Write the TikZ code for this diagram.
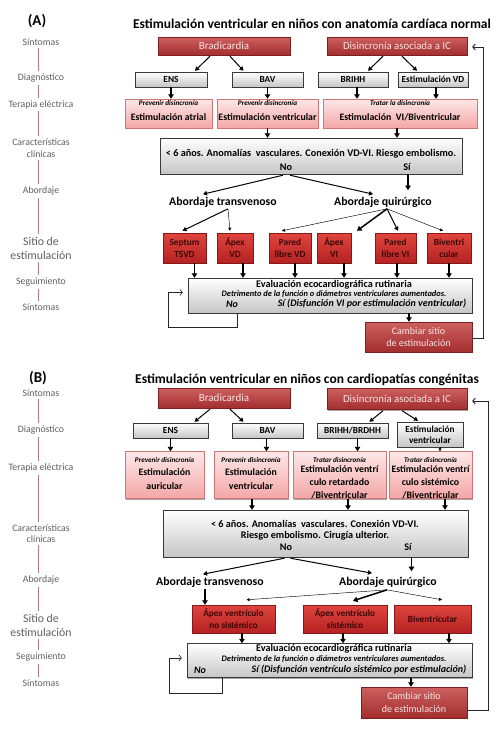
\documentclass[tikz,border=0pt]{standalone}
\usepackage{fontspec}
\setmainfont{Carlito}
\usetikzlibrary{arrows.meta,calc,shadows}
\definecolor{hdrT}{HTML}{CD6060}
\definecolor{hdrBt}{HTML}{A32E2E}
\definecolor{hdrD}{HTML}{7F1F1F}
\definecolor{hdrTx}{HTML}{F8E4E4}
\definecolor{siteT}{HTML}{E0453E}
\definecolor{siteBt}{HTML}{B42222}
\definecolor{siteD}{HTML}{861818}
\definecolor{siteTx}{HTML}{3A0606}
\definecolor{pinkT}{HTML}{FDE8E8}
\definecolor{pinkBt}{HTML}{F4A6A6}
\definecolor{pinkD}{HTML}{D07474}
\definecolor{sideC}{HTML}{B87A7A}
\begin{document}
\begin{tikzpicture}[x=1pt,y=-1pt,
  shad/.style={drop shadow={shadow xshift=1.2pt,shadow yshift=-1.2pt,opacity=0.35,fill=black}},
  lab/.style={text=gray!75!black,font=\fontsize{9.8}{11.5}\selectfont,align=center,inner xsep=0pt,inner ysep=2.5pt},
  labbig/.style={lab,font=\fontsize{11.8}{14}\selectfont},
  sideline/.style={draw=sideC,line width=0.5pt},
  ttl/.style={font=\bfseries\fontsize{13.5}{15}\selectfont,inner sep=0pt},
  pnl/.style={font=\bfseries\fontsize{15}{17}\selectfont,inner sep=0pt},
  hdr/.style={shad,draw=hdrD,top color=hdrT,bottom color=hdrBt,text=hdrTx,font=\fontsize{11}{13}\selectfont,align=center,inner sep=0pt},
  gbox/.style={shad,draw=gray!45!black,top color=white,bottom color=gray!45,font=\bfseries\fontsize{9.3}{11}\selectfont,align=center,inner sep=0pt},
  pbox/.style={shad,draw=pinkD,top color=pinkT,bottom color=pinkBt,inner sep=0pt},
  ptit/.style={font=\bfseries\itshape\fontsize{7.2}{8}\selectfont,inner sep=0pt},
  pmain/.style={font=\bfseries\fontsize{9.8}{13}\selectfont,align=center,inner sep=0pt},
  sbox/.style={shad,draw=siteD,top color=siteT,bottom color=siteBt,text=siteTx,font=\bfseries\fontsize{9.3}{12}\selectfont,align=center,inner sep=0pt},
  btxt/.style={font=\bfseries\fontsize{10.2}{11}\selectfont,inner sep=0pt},
  itxt/.style={font=\bfseries\itshape\fontsize{8.4}{9}\selectfont,inner sep=0pt},
  ibtxt/.style={font=\bfseries\itshape\fontsize{10}{11}\selectfont,inner sep=0pt},
  abo/.style={font=\bfseries\fontsize{11.8}{13}\selectfont,inner sep=1.5pt},
  arrT/.style={-{Triangle[length=4.5pt,width=5.5pt]},line width=1.5pt},
  arrM/.style={-{Triangle[length=4pt,width=4.5pt]},line width=1pt},
  arrS/.style={-{Triangle[length=3pt,width=3pt]},line width=0.45pt},
  loopl/.style={-{Straight Barb[length=2.5pt,width=6pt]},draw=gray!30!black,line width=0.6pt},
  fbl/.style={-{Straight Barb[length=2.5pt,width=6pt]},draw=gray!30!black,line width=0.9pt}
]
\useasboundingbox (0,0) rectangle (500,729);
\fill[white] (0,0) rectangle (500,729);

% ================= PANEL A =================
\node[pnl] (pA) at (37,21) {(A)};
\node[ttl] (titA) at (312,24) {Estimulación ventricular en niños con anatomía cardíaca normal};

\node[lab] (lA1) at (41,42) {Síntomas};
\node[lab] (lA2) at (41,78) {Diagnóstico};
\node[lab] (lA3) at (41,104.5) {Terapia eléctrica};
\node[lab] (lA4) at (41,148) {Características\\clínicas};
\node[lab] (lA5) at (41,191) {Abordaje};
\node[labbig] (lA6) at (41,248) {Sitio de\\estimulación};
\node[lab] (lA7) at (41,282) {Seguimiento};
\node[lab] (lA8) at (41,307) {Síntomas};
\foreach \a/\b in {lA1/lA2,lA2/lA3,lA3/lA4,lA4/lA5,lA5/lA6,lA6/lA7,lA7/lA8}
  \draw[sideline] ($(\a.south)+(-3,0)$) -- ($(\b.north)+(-3,0)$);

\node[hdr,minimum width=132,minimum height=18] (bradA) at (224,46) {Bradicardia};
\node[hdr,minimum width=140,minimum height=18,font=\fontsize{10.8}{13}\selectfont] (disA) at (397,46) {Disincronía asociada a IC};

\node[gbox,minimum width=72,minimum height=15] (ensA) at (171,79.5) {ENS};
\node[gbox,minimum width=71,minimum height=15] (bavA) at (267.5,79.5) {BAV};
\node[gbox,minimum width=70,minimum height=15] (brihhA) at (353,79.5) {BRIHH};
\node[gbox,minimum width=70,minimum height=15] (evdA) at (433,79.5) {Estimulación VD};

\node[pbox,minimum width=87,minimum height=29] (pA1) at (168.5,113.5) {};
\node[ptit] (pA1t) at (168.5,102.5) {Prevenir disincronía};
\node[pmain] (pA1m) at (168.5,117.5) {Estimulación atrial};
\node[pbox,minimum width=101,minimum height=29] (pA2) at (267.5,113.5) {};
\node[ptit] (pA2t) at (267.5,102.5) {Prevenir disincronía};
\node[pmain] (pA2m) at (267.5,117.5) {Estimulación ventricular};
\node[pbox,minimum width=154,minimum height=29] (pA3) at (400,113.5) {};
\node[ptit] (pA3t) at (400,102.5) {Tratar la disincronía};
\node[pmain] (pA3m) at (400,117.5) {Estimulación\ \ VI/Biventricular};

\node[gbox,minimum width=302,minimum height=36] (bigA) at (311,156) {};
\node[btxt] (bigAt) at (311,153.5) {< 6 años. Anomalías\ \ vasculares. Conexión VD-VI. Riesgo embolismo.};
\node[btxt] (bigAno) at (286,167) {No};
\node[btxt] (bigAsi) at (407,167) {Sí};

\node[abo] (atA) at (223,202) {Abordaje transvenoso};
\node[abo] (aqA) at (383,202) {Abordaje quirúrgico};

\node[sbox,minimum width=43,minimum height=30] (s1A) at (184.5,248) {Septum\\TSVD};
\node[sbox,minimum width=36,minimum height=30] (s2A) at (235,248) {Ápex\\VD};
\node[sbox,minimum width=42,minimum height=30] (s3A) at (290,248) {Pared\\libre VD};
\node[sbox,minimum width=34,minimum height=30] (s4A) at (334,248) {Ápex\\VI};
\node[sbox,minimum width=41,minimum height=30] (s5A) at (395.5,248) {Pared\\libre VI};
\node[sbox,minimum width=44,minimum height=30] (s6A) at (449,248) {Biventri\\cular};

\node[gbox,minimum width=284,minimum height=35] (evalA) at (330,295.5) {};
\node[btxt] (evalAt) at (334,285) {Evaluación ecocardiográfica rutinaria};
\node[itxt] (evalAd) at (334,294.5) {Detrimento de la función o diámetros ventriculares aumentados.};
\node[ibtxt] (evalAno) at (232,304) {No};
\node[ibtxt] (evalAsi) at (372,304) {Sí (Disfunción VI por estimulación ventricular)};

\node[hdr,minimum width=107,minimum height=30,font=\fontsize{10}{12.5}\selectfont] (cambA) at (418.5,337) {Cambiar sitio\\de estimulación};

% arrows A
\draw[arrM] ($(bradA.south)+(-14,1)$) -- ($(ensA.north)+(24,-1)$);
\draw[arrM] ($(bradA.south)+(6,1)$) -- ($(bavA.north)+(-24,-1)$);
\draw[arrM] ($(disA.south)+(-14,1)$) -- ($(brihhA.north)+(15,-1)$);
\draw[arrM] ($(disA.south)+(5,1)$) -- ($(evdA.north)+(-16,-1)$);
\draw[arrT] (ensA.south) -- (ensA.south |- pA1.north);
\draw[arrT] (bavA.south) -- (bavA.south |- pA2.north);
\draw[arrT] ($(brihhA.south)+(4,0)$) -- ($(brihhA.south|-pA3.north)+(4,0)$);
\draw[arrT] ($(evdA.south)+(3,0)$) -- ($(evdA.south|-pA3.north)+(3,0)$);
\draw[arrT] (pA2.south) -- (pA2.south |- bigA.north);
\draw[arrT] ($(pA3.south)+(-3,0)$) -- ($(pA3.south|-bigA.north)+(-3,0)$);
\draw[arrM] ($(bigA.south)+(-28,1)$) -- ($(atA.north)+(-20,-1)$);
\draw[arrM] ($(bigA.south)+(-21,1)$) -- ($(aqA.north)+(-10,-1)$);
\draw[arrT] ($(bigA.south)+(97,0)$) -- ($(bigA.south|-aqA.north)+(97,-5)$);
\draw[arrM] ($(atA.south)+(5,0)$) -- ($(s1A.north)+(-2,-2)$);
\draw[arrS] ($(atA.south)+(5,0)$) -- ($(s2A.north)+(-5,-2)$);
\draw[arrS] ($(aqA.south)+(4,0)$) -- ($(s3A.north)+(-8,-2)$);
\draw[arrT] ($(aqA.south)+(4,0)$) -- ($(s4A.north)+(23,-2)$);
\draw[arrM] ($(aqA.south)+(4,0)$) -- ($(s5A.north)+(2.5,-2)$);
\draw[arrS] ($(aqA.south)+(4,0)$) -- ($(s6A.north)+(-6,-2)$);
\draw[arrT] ($(s1A.south)+(10,0)$) -- ($(s1A.south|-evalA.north)+(10,0)$);
\draw[arrT] ($(s2A.south)+(8,0)$) -- ($(s2A.south|-evalA.north)+(8,0)$);
\draw[arrT] ($(s3A.south)+(5,0)$) -- ($(s3A.south|-evalA.north)+(5,0)$);
\draw[arrT] ($(s4A.south)+(10,0)$) -- ($(s4A.south|-evalA.north)+(10,0)$);
\draw[arrT] ($(s5A.south)+(1.5,0)$) -- ($(s5A.south|-evalA.north)+(1.5,0)$);
\draw[arrT] (s6A.south) -- (s6A.south|-evalA.north);
\coordinate (loopA) at (168,327);
\draw[loopl,shorten >=5pt] ($(evalA.south)+(-93,0)$) |- (loopA) |- ($(evalA.west)+(0,-3)$);
\draw[arrT] ($(evalA.south)+(79,0)$) -- ($(evalA.south|-cambA.north)+(79,0)$);
\coordinate (fbA) at (483,338);
\draw[fbl,shorten >=5pt] ($(cambA.east)+(0,1)$) -- (fbA) |- ($(disA.east)+(0,1)$);

% ================= PANEL B =================
\node[pnl] (pB) at (38,378) {(B)};
\node[ttl] (titB) at (307,380) {Estimulación ventricular en niños con cardiopatías congénitas};

\node[lab] (lB1) at (41,393) {Síntomas};
\node[lab] (lB2) at (41,430) {Diagnóstico};
\node[lab] (lB3) at (41,468) {Terapia eléctrica};
\node[lab] (lB4) at (41,533.5) {Características\\clínicas};
\node[lab] (lB5) at (41,580) {Abordaje};
\node[labbig] (lB6) at (41,625) {Sitio de\\estimulación};
\node[lab] (lB7) at (41,657) {Seguimiento};
\node[lab] (lB8) at (41,683) {Síntomas};
\foreach \a/\b in {lB1/lB2,lB2/lB3,lB3/lB4,lB4/lB5,lB5/lB6,lB6/lB7,lB7/lB8}
  \draw[sideline] ($(\a.south)+(-3,0)$) -- ($(\b.north)+(-3,0)$);

\node[hdr,minimum width=132,minimum height=20] (bradB) at (224,398) {Bradicardia};
\node[hdr,minimum width=140,minimum height=21,font=\fontsize{10.8}{13}\selectfont] (disB) at (397,399) {Disincronía asociada a IC};

\node[gbox,minimum width=75,minimum height=15] (ensB) at (170.5,430.5) {ENS};
\node[gbox,minimum width=71,minimum height=15] (bavB) at (267.5,430.5) {BAV};
\node[gbox,minimum width=71,minimum height=15] (brihhB) at (352.5,430.5) {BRIHH/BRDHH};
\node[gbox,minimum width=66,minimum height=25] (evB) at (430,434.5) {Estimulación\\ventricular};

\node[pbox,minimum width=79,minimum height=47] (pB1) at (164.5,475) {};
\node[ptit] (pB1t) at (164.5,459.5) {Prevenir disincronía};
\node[pmain] (pB1m) at (164.5,479.5) {Estimulación\\[1pt]auricular};
\node[pbox,minimum width=74,minimum height=47] (pB2) at (251,475) {};
\node[ptit] (pB2t) at (251,459.5) {Prevenir disincronía};
\node[pmain] (pB2m) at (251,479.5) {Estimulación\\[1pt]ventricular};
\node[pbox,minimum width=93,minimum height=47] (pB3) at (339.5,475) {};
\node[ptit] (pB3t) at (339.5,459.5) {Tratar disincronía};
\node[pmain] (pB3m) at (339.5,482.5) {Estimulación ventrí\\culo retardado\\/Biventricular};
\node[pbox,minimum width=83,minimum height=47] (pB4) at (430.5,475) {};
\node[ptit] (pB4t) at (430.5,459.5) {Tratar disincronía};
\node[pmain] (pB4m) at (430.5,482.5) {Estimulación ventrí\\culo sistémico\\/Biventricular};

\node[gbox,minimum width=305,minimum height=47] (bigB) at (315.5,533.5) {};
\node[btxt] (bigBt1) at (315,524) {< 6 años. Anomalías\ \ vasculares. Conexión VD-VI.};
\node[btxt] (bigBt2) at (315,535.5) {Riesgo embolismo. Cirugía ulterior.};
\node[btxt] (bigBno) at (286,547.5) {No};
\node[btxt] (bigBsi) at (408,547.5) {Sí};

\node[abo] (atB) at (210,582) {Abordaje transvenoso};
\node[abo] (aqB) at (388,582) {Abordaje quirúrgico};

\node[sbox,minimum width=83,minimum height=28] (s1B) at (233.5,619) {Ápex ventrículo\\no sistémico};
\node[sbox,minimum width=84,minimum height=28] (s2B) at (345,619) {Ápex ventrículo\\sistémico};
\node[sbox,minimum width=77,minimum height=28] (s3B) at (432.5,619) {Biventricular};

\node[gbox,minimum width=285,minimum height=34] (evalB) at (329.5,660.5) {};
\node[btxt] (evalBt) at (334,649) {Evaluación ecocardiográfica rutinaria};
\node[itxt] (evalBd) at (334,659) {Detrimento de la función o diámetros ventriculares aumentados.};
\node[ibtxt] (evalBno) at (200,670) {No};
\node[ibtxt] (evalBsi) at (359,670) {Sí (Disfunción ventrículo sistémico por estimulación)};

\node[hdr,minimum width=106,minimum height=31,font=\fontsize{10}{12.5}\selectfont] (cambB) at (414,702.5) {Cambiar sitio\\de estimulación};

% arrows B
\draw[arrM] ($(bradB.south)+(-14,1)$) -- ($(ensB.north)+(24,-1)$);
\draw[arrM] ($(bradB.south)+(6,1)$) -- ($(bavB.north)+(-24,-1)$);
\draw[arrM] ($(disB.south)+(-14,1)$) -- ($(brihhB.north)+(17,-1)$);
\draw[arrM] ($(disB.south)+(5,1)$) -- ($(evB.north)+(-12,-1)$);
\draw[arrT] (ensB.south) -- (ensB.south |- pB1.north);
\draw[arrT] ($(bavB.south)+(-1,0)$) -- ($(bavB.south|-pB2.north)+(-1,0)$);
\draw[arrT] ($(brihhB.south)+(5,0)$) -- ($(brihhB.south|-pB3.north)+(5,0)$);
\draw[arrS] ($(evB.south)+(10,0)$) -- ($(evB.south|-pB4.north)+(10,0)$);
\draw[arrT] ($(pB2.south)+(1,0)$) -- ($(pB2.south|-bigB.north)+(1,0)$);
\draw[arrT] ($(pB3.south)+(8.5,0)$) -- ($(pB3.south|-bigB.north)+(8.5,0)$);
\draw[arrT] ($(pB4.south)+(14.5,0)$) -- ($(pB4.south|-bigB.north)+(14.5,0)$);
\draw[arrM] ($(bigB.south)+(-31,1)$) -- ($(atB.north)+(-7,-1)$);
\draw[arrM] ($(bigB.south)+(-25,1)$) -- ($(aqB.north)+(-16,-2)$);
\draw[arrT] ($(bigB.south)+(96,0)$) -- ($(bigB.south|-aqB.north)+(96,-4)$);
\draw[arrT] ($(atB.south)+(-5,0)$) -- ($(atB.south|-s1B.north)+(-5,0)$);
\draw[arrS] ($(aqB.south)+(-1,1)$) -- ($(s1B.north)+(13,-5)$);
\draw[arrT] ($(aqB.south)+(-1,1)$) -- ($(s2B.north)+(8,-4)$);
\draw[arrS] ($(aqB.south)+(-1,1)$) -- ($(s3B.north)+(9.5,-5)$);
\draw[arrT] ($(s1B.south)+(8.5,0)$) -- ($(s1B.south|-evalB.north)+(8.5,0)$);
\draw[arrT] ($(s2B.south)+(-2,0)$) -- ($(s2B.south|-evalB.north)+(-2,0)$);
\draw[arrT] ($(s3B.south)+(16.5,0)$) -- ($(s3B.south|-evalB.north)+(16.5,0)$);
\coordinate (loopB) at (169,693);
\draw[loopl,shorten >=5pt] ($(evalB.south)+(-107.5,0)$) |- (loopB) |- ($(evalB.west)+(0,-2.5)$);
\draw[arrT] ($(evalB.south)+(81.5,0)$) -- ($(evalB.south|-cambB.north)+(81.5,0)$);
\coordinate (fbB) at (488,710);
\draw[fbl,shorten >=5pt] ($(cambB.east)+(0,7.5)$) -- (fbB) |- ($(disB.east)+(0,2)$);
\end{tikzpicture}
\end{document}
